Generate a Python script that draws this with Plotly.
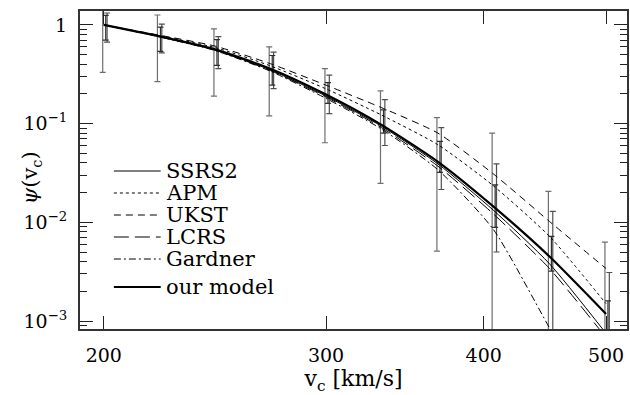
import plotly.graph_objects as go
import numpy as np

# ---- data ----
vc = [200, 221, 245, 271, 300, 332, 368, 407, 451, 500]

ssrs2   = [1.0, 0.770, 0.560, 0.350, 0.190, 0.094, 0.039, 0.0133, 0.0038, 0.00075]
apm     = [1.0, 0.780, 0.590, 0.385, 0.225, 0.122, 0.061, 0.0235, 0.0072, 0.00150]
ukst    = [1.0, 0.790, 0.610, 0.405, 0.245, 0.145, 0.080, 0.0310, 0.0102, 0.00340]
lcrs    = [1.0, 0.765, 0.555, 0.345, 0.186, 0.091, 0.037, 0.0122, 0.0034, 0.00068]
gardner = [1.0, 0.760, 0.550, 0.340, 0.180, 0.088, 0.034, 0.0085, 0.00085, 0.00008]
model   = [1.0, 0.770, 0.565, 0.360, 0.197, 0.097, 0.041, 0.0145, 0.0045, 0.00118]

# error bars: three groups (upper / lower limits), centred on the model values
errA_up = [1.45, 1.26, 0.91, 0.60, 0.36, 0.215, 0.115, 0.080, 0.0206, 0.0063]
errA_lo = [0.33, 0.266, 0.19, 0.12, 0.064, 0.0248, 0.0051, 0.0002, 0.0001, 0.0001]
errB_up = [1.32, 1.02, 0.76, 0.53, 0.31, 0.175, 0.091, 0.039, 0.0129, 0.0031]
errB_lo = [0.67, 0.52, 0.36, 0.226, 0.126, 0.060, 0.0215, 0.0050, 0.0004, 0.0003]
errC_up = [1.25, 0.95, 0.71, 0.49, 0.26, 0.138, 0.066, 0.024, 0.0072, 0.0016]
errC_lo = [0.70, 0.54, 0.39, 0.245, 0.16, 0.080, 0.032, 0.0089, 0.0032, 0.0006]

legend_labels = ["SSRS2", "APM", "UKST", "LCRS", "Gardner"]
model_label = "our model"

x_tickvals = [200, 300, 400, 500]
x_ticktext = ["200", "300", "400", "500"]
y_tickvals = [1, 0.1, 0.01, 0.001]
y_ticktext = ["1", "10<sup>−1</sup>", "10<sup>−2</sup>", "10<sup>−3</sup>"]
x_title = "v<sub>c</sub> [km/s]"
y_title = "<i>ψ</i>(v<sub>c</sub>)"

FONT = "DejaVu Serif"
W, H = 630, 395
ML, MR, MT, MB = 80, 1, 11, 66
PW, PH = W - ML - MR, H - MT - MB


def px_x(p):
    return (p - ML) / PW


def px_y(p):
    return (H - MB - p) / PH


fig = go.Figure()

# error bars
err_sets = [(errA_up, errA_lo, 0.998, "#6f6f6f"),
            (errB_up, errB_lo, 1.006, "#4f4f4f"),
            (errC_up, errC_lo, 1.0035, "#2f2f2f")]
for up, lo, shift, col in err_sets:
    xs = [v * shift for v in vc]
    plus = [u - m for u, m in zip(up, model)]
    minus = [m - l for l, m in zip(lo, model)]
    fig.add_trace(go.Scatter(
        x=xs, y=model, mode="markers", marker=dict(size=1, color=col, opacity=0),
        error_y=dict(type="data", symmetric=False, array=plus, arrayminus=minus,
                     color=col, thickness=1.2, width=3),
        showlegend=False, hoverinfo="skip"))

styles = [
    (ssrs2, "solid", 1.0),
    (apm, "dot", 1.0),
    (ukst, "7px,5px", 1.0),
    (lcrs, "15px,6px", 1.0),
    (gardner, "7px,3px,2px,3px", 1.0),
]
for (ys, dash, w), name in zip(styles, legend_labels):
    fig.add_trace(go.Scatter(x=vc, y=ys, mode="lines", name=name,
                             line=dict(color="black", width=w, dash=dash,
                                       shape="spline", smoothing=0.6),
                             showlegend=False))
fig.add_trace(go.Scatter(x=vc, y=model, mode="lines", name=model_label,
                         line=dict(color="black", width=2.2, shape="spline", smoothing=0.6),
                         showlegend=False))

# legend drawn with shapes + annotations
leg_rows = [171, 193, 215, 237, 259]
for (ys, dash, w), name, py in zip(styles, legend_labels, leg_rows):
    fig.add_shape(type="line", xref="paper", yref="paper",
                  x0=px_x(114), x1=px_x(161), y0=px_y(py), y1=px_y(py),
                  line=dict(color="black", width=w, dash=dash))
    fig.add_annotation(xref="paper", yref="paper", x=px_x(164), y=px_y(py),
                       text=name, showarrow=False, xanchor="left", yanchor="middle",
                       font=dict(family=FONT, size=21, color="black"))
py = 287
fig.add_shape(type="line", xref="paper", yref="paper",
              x0=px_x(114), x1=px_x(161), y0=px_y(py), y1=px_y(py),
              line=dict(color="black", width=2.2))
fig.add_annotation(xref="paper", yref="paper", x=px_x(164), y=px_y(py),
                   text=model_label, showarrow=False, xanchor="left", yanchor="middle",
                   font=dict(family=FONT, size=21, color="black"))

# y-axis title as annotation (sits between the tick labels as in the reference)
fig.add_annotation(xref="paper", yref="paper", x=px_x(31), y=px_y(178),
                   text=y_title, showarrow=False, textangle=-90,
                   xanchor="center", yanchor="middle",
                   font=dict(family=FONT, size=21, color="black"))

minor_y = [m * 10.0**k for k in range(-4, 1) for m in range(2, 10)]

fig.update_layout(
    width=W, height=H,
    margin=dict(l=ML, r=MR, t=MT, b=MB),
    paper_bgcolor="white", plot_bgcolor="white",
    font=dict(family=FONT, size=19, color="black"),
    xaxis=dict(type="log", range=[np.log10(191.5), np.log10(519.5)],
               tickvals=x_tickvals, ticktext=x_ticktext,
               ticks="inside", ticklen=13, tickwidth=1.3, tickcolor="#222",
               showline=True, linewidth=2, linecolor="#333", mirror="ticks",
               showgrid=False, zeroline=False, ticklabelstandoff=8,
               title=dict(text=x_title, standoff=6,
                          font=dict(family=FONT, size=22))),
    yaxis=dict(type="log", range=[-3.081, 0.141],
               tickvals=y_tickvals, ticktext=y_ticktext,
               ticks="inside", ticklen=13, tickwidth=1.3, tickcolor="#222",
               minor=dict(tickvals=minor_y, ticks="inside", ticklen=7, tickwidth=1.3,
                          tickcolor="#222", showgrid=False),
               showline=True, linewidth=2, linecolor="#333", mirror="ticks",
               showgrid=False, zeroline=False, ticklabelstandoff=7),
)

fig.write_html("out.html")
